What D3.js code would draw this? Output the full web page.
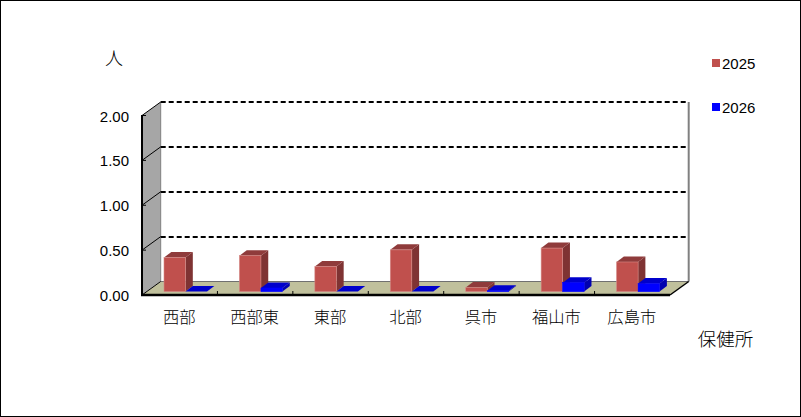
<!DOCTYPE html>
<html><head><meta charset="utf-8">
<script src="https://cdn.jsdelivr.net/npm/d3@7"></script>
<style>html,body{margin:0;padding:0;background:#fff}svg{display:block}text{font-family:"Liberation Sans","Noto Sans CJK JP",sans-serif;fill:#000}text.cjk{font-family:"Noto Sans CJK JP",sans-serif;font-weight:300}</style>
</head><body><svg id="c" width="801" height="417"></svg>
<script>
const categories=["西部","西部東","東部","北部","呉市","福山市","広島市"];
const years=["2025","2026"];
const values2025=[0.38,0.40,0.28,0.465,0.045,0.485,0.33];
const values2026=[0,0.04,0,0,0.01,0.10,0.09];
const yTicks=[0,0.5,1,1.5,2];
const yTickLabels=["0.00","0.50","1.00","1.50","2.00"];
const colors={front:["#c0504d","#0000ff"],top:["#8f3b3b","#0000cc"],side:["#7f3333","#0000b0"],edge:["#d58a86","#0000ff"]};

const svg=d3.select("#c");
svg.append("rect").attr("x",0.5).attr("y",0.5).attr("width",800).attr("height",416).attr("fill","#fff").attr("stroke","#000");
const y=d3.scaleLinear().domain([0,2]).range([295,115.5]);
const x=d3.scaleBand().domain(categories).range([142,670]);
const D=[18.7,-13.5];
const poly=p=>p.map(q=>q.join(",")).join(" ");
const g=svg.append("g");
const x0=x.range()[0],x1=x.range()[1];
g.append("polygon").attr("points",poly([[x0,y(0)],[x0+D[0],y(0)+D[1]],[x0+D[0],y(2)+D[1]],[x0,y(2)]])).attr("fill","#a6a6a6");
g.append("polygon").attr("points",poly([[x0,y(0)],[x1,y(0)],[x1+D[0],y(0)+D[1]],[x0+D[0],y(0)+D[1]]])).attr("fill","#c0c09c");
g.append("line").attr("x1",x0+D[0]).attr("x2",x1+D[0]).attr("y1",y(0)+D[1]).attr("y2",y(0)+D[1]).attr("stroke","#707070");
g.append("line").attr("x1",x0+D[0]).attr("x2",x0+D[0]).attr("y1",y(0)+D[1]).attr("y2",y(2)+D[1]).attr("stroke","#808080");
g.append("line").attr("x1",x1+D[0]).attr("x2",x1+D[0]).attr("y1",y(0)+D[1]).attr("y2",y(2)+D[1]).attr("stroke","#808080").attr("stroke-width",2);
yTicks.filter(t=>t>0).forEach(t=>{
  g.append("line").attr("x1",x0+D[0]).attr("x2",x1+D[0]).attr("y1",Math.round(y(t)+D[1])).attr("y2",Math.round(y(t)+D[1])).attr("stroke","#000").attr("stroke-width",2).attr("stroke-dasharray","5 3");
  g.append("line").attr("x1",x0).attr("x2",x0+D[0]).attr("y1",y(t)).attr("y2",y(t)+D[1]).attr("stroke","#000");
});
g.append("line").attr("x1",x0).attr("x2",x0+D[0]).attr("y1",y(0)).attr("y2",y(0)+D[1]).attr("stroke","#000");
g.append("line").attr("x1",x1).attr("x2",x1+D[0]).attr("y1",y(0)).attr("y2",y(0)+D[1]).attr("stroke","#000").attr("stroke-width",1.5);
const b=d3.scaleBand().domain(years).range([0,x.bandwidth()]).paddingOuter(0.753).paddingInner(0);
const base=y(0)-3.4, dd=[7.3,-5.5];
[values2025,values2026].forEach((vals,si)=>{
  vals.forEach((v,i)=>{
    const c=categories[i],l=x(c)+b(years[si])+5.8,w=b.bandwidth(),h=y(0)-y(v),t=base-h,bb=g.append("g");
    bb.append("polygon").attr("points",poly([[l+w,t],[l+w+dd[0],t+dd[1]],[l+w+dd[0],base+dd[1]],[l+w,base]])).attr("fill",colors.side[si]);
    bb.append("polygon").attr("points",poly([[l,t],[l+dd[0],t+dd[1]],[l+w+dd[0],t+dd[1]],[l+w,t]])).attr("fill",colors.top[si]);
    if(h>0) bb.append("rect").attr("x",l).attr("y",t).attr("width",w).attr("height",h).attr("fill",colors.front[si]).attr("stroke",colors.edge[si]).attr("stroke-width",0.6);
  });
});
g.append("line").attr("x1",x0).attr("x2",x0).attr("y1",y(2)).attr("y2",y(0)+1).attr("stroke","#000").attr("stroke-width",2);
g.append("line").attr("x1",x0-1).attr("x2",x1).attr("y1",y(0)).attr("y2",y(0)).attr("stroke","#000").attr("stroke-width",2.5);
categories.slice(1).forEach(c=>g.append("line").attr("x1",x(c)).attr("x2",x(c)).attr("y1",y(0)-4).attr("y2",y(0)).attr("stroke","#000"));
yTicks.forEach((t,i)=>{
  g.append("line").attr("x1",x0-1).attr("x2",x0+4).attr("y1",y(t)).attr("y2",y(t)).attr("stroke","#000");
  svg.append("text").attr("x",129).attr("y",y(t)+6).attr("text-anchor","end").attr("font-size",15).text(yTickLabels[i]);
});
categories.forEach(c=>svg.append("text").attr("class","cjk").attr("x",x(c)+x.bandwidth()/2-0.5).attr("y",323).attr("text-anchor","middle").attr("font-size",16.3).text(c));
svg.append("text").attr("class","cjk").attr("x",114).attr("y",65).attr("text-anchor","middle").attr("font-size",18).text("人");
svg.append("text").attr("class","cjk").attr("x",725.5).attr("y",346).attr("text-anchor","middle").attr("font-size",18.5).text("保健所");
const ly=[63,107];
years.forEach((yr,i)=>{
  svg.append("rect").attr("x",712).attr("y",ly[i]-4).attr("width",8).attr("height",8).attr("fill",colors.front[i]);
  svg.append("text").attr("x",722).attr("y",ly[i]+5.5).attr("font-size",15).text(yr);
});
</script></body></html>
